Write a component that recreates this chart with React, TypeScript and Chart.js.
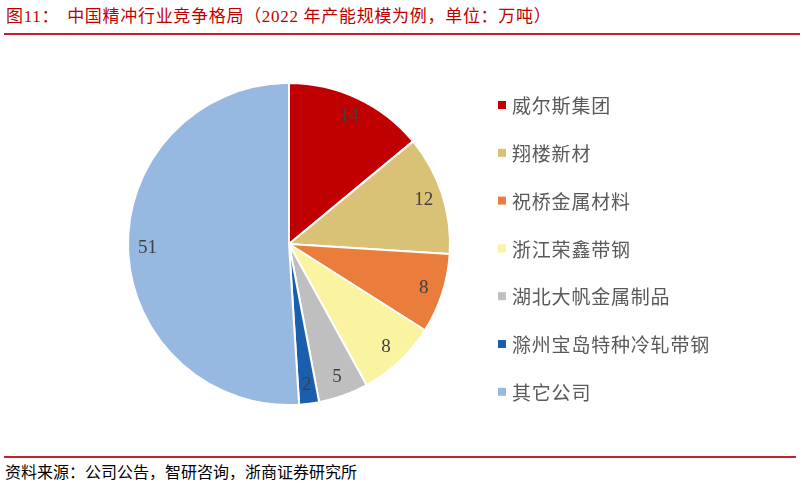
import { useEffect, useRef } from "react"
import { Chart, registerables } from "chart.js"

Chart.register(...registerables)

// 2022 年产能（万吨）
const companies = [
  "威尔斯集团",
  "翔楼新材",
  "祝桥金属材料",
  "浙江荣鑫带钢",
  "湖北大帆金属制品",
  "滁州宝岛特种冷轧带钢",
  "其它公司",
]
const capacity = [14, 12, 8, 8, 5, 2, 51]
const sliceColors = ["#C00000", "#D9C175", "#EB7D3C", "#FAF3A0", "#BFBFBF", "#1A5EAE", "#97B8E0"]

// 扇区数值标签
const sliceLabels = {
  id: "sliceLabels",
  afterDatasetsDraw(chart: any) {
    const ctx = chart.ctx
    const meta = chart.getDatasetMeta(0)
    ctx.save()
    ctx.font = '19px "Liberation Serif"'
    ctx.fillStyle = "#404040"
    ctx.textAlign = "center"
    ctx.textBaseline = "middle"
    meta.data.forEach((arc: any, i: number) => {
      const { x, y, startAngle, endAngle, outerRadius } = arc.getProps(
        ["x", "y", "startAngle", "endAngle", "outerRadius"],
        true
      )
      const mid = (startAngle + endAngle) / 2
      const r = outerRadius * 0.88
      ctx.fillText(String(chart.data.datasets[0].data[i]), x + Math.cos(mid) * r, y + Math.sin(mid) * r)
    })
    ctx.restore()
  },
}

// 右侧图例
const sideLegend = {
  id: "sideLegend",
  afterDraw(chart: any) {
    const ctx = chart.ctx
    const labels: string[] = chart.data.labels
    const colors: string[] = chart.data.datasets[0].backgroundColor
    const left = 498
    const top = 65
    const gap = 47.8
    ctx.save()
    ctx.font = '19px "Noto Sans CJK SC"'
    ctx.letterSpacing = "0.8px"
    ctx.textBaseline = "middle"
    labels.forEach((label, i) => {
      const y = top + i * gap
      ctx.fillStyle = colors[i]
      ctx.fillRect(left, y - 4, 8, 8)
      ctx.fillStyle = "#595959"
      ctx.fillText(label, left + 14, y + 1)
    })
    ctx.restore()
  },
}

function CapacityPie() {
  const chartRef = useRef<HTMLCanvasElement>(null)
  const chartInstance = useRef<Chart | null>(null)

  useEffect(() => {
    if (!chartRef.current) return
    if (chartInstance.current) chartInstance.current.destroy()

    const ctx = chartRef.current.getContext("2d")
    if (!ctx) return
    chartInstance.current = new Chart(ctx, {
      type: "pie",
      data: {
        labels: companies,
        datasets: [
          {
            data: capacity,
            backgroundColor: sliceColors,
            borderColor: "#ffffff",
            borderWidth: 2,
          },
        ],
      },
      options: {
        responsive: true,
        maintainAspectRatio: false,
        animation: false,
        layout: {
          padding: { left: 127, right: 351, top: 42, bottom: 44 },
        },
        plugins: {
          legend: { display: false },
          tooltip: { enabled: false },
        },
      },
      plugins: [sliceLabels, sideLegend],
    })

    return () => {
      if (chartInstance.current) {
        chartInstance.current.destroy()
        chartInstance.current = null
      }
    }
  }, [])

  return (
    <div style={{ position: "absolute", left: 0, top: 40, width: 802, height: 410 }}>
      <canvas ref={chartRef} />
    </div>
  )
}

export default function App() {
  return (
    <div
      style={{
        position: "absolute",
        left: 0,
        top: 0,
        width: 802,
        height: 488,
        background: "#ffffff",
        fontFamily: '"Liberation Serif", "Noto Sans CJK SC", serif',
      }}
    >
      <div
        style={{
          position: "absolute",
          left: 6,
          top: 6,
          fontSize: 17,
          lineHeight: "22px",
          letterSpacing: "0.7px",
          color: "#C00000",
          whiteSpace: "nowrap",
        }}
      >
        图11：<span style={{ marginLeft: 8 }}>中国精冲行业竞争格局（2022 年产能规模为例，单位：万吨）</span>
      </div>
      <div style={{ position: "absolute", left: 4, top: 33, width: 796, height: 2, background: "#C8202A" }} />
      <CapacityPie />
      <div style={{ position: "absolute", left: 4, top: 456, width: 792, height: 2, background: "#C8202A" }} />
      <div
        style={{
          position: "absolute",
          left: 5,
          top: 463,
          fontSize: 16,
          lineHeight: "20px",
          color: "#000000",
          whiteSpace: "nowrap",
        }}
      >
        资料来源：公司公告，智研咨询，浙商证券研究所
      </div>
    </div>
  )
}
